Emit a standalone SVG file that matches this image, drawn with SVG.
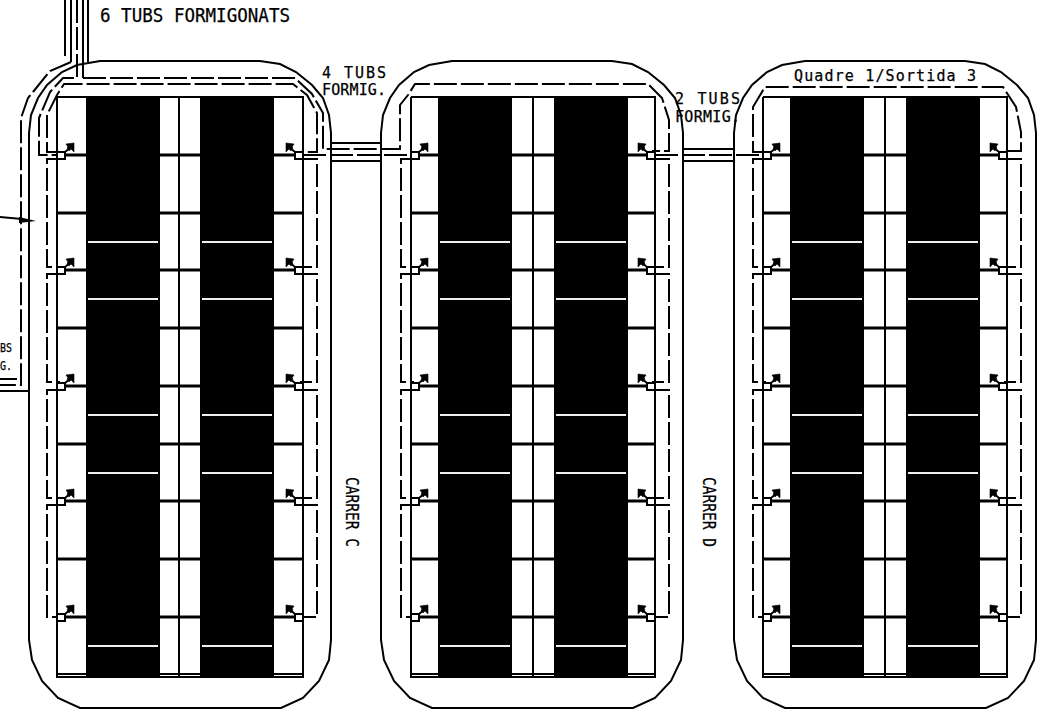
<svg xmlns="http://www.w3.org/2000/svg" width="1049" height="709" viewBox="0 0 1049 709">
<style>
.s{fill:none;stroke:#000;stroke-width:2}
.d{fill:none;stroke:#000;stroke-width:2;stroke-dasharray:23 4}
.r{fill:none;stroke:#000;stroke-width:3}
.w{fill:none;stroke:#eee;stroke-width:2}
.b{fill:#000;stroke:#000;stroke-width:.6}
.f{fill:#000;stroke:none}
.box{fill:#fff;stroke:#000;stroke-width:2}
text{font-family:"DejaVu Sans Mono","Liberation Mono",monospace;fill:#000;font-weight:400;stroke:#000;stroke-width:.25}
</style>
<defs>
<path id="outline" class="s" d="M29 133L31 115 38 98 47 85 62 72 77 65 100 61H260L280 64 296 72 312 85 323 98 329 115 331 133V640L329 660 319 681 303 698 281 708H80L58 698 42 681 32 660 29 640Z"/>
<path id="white" class="w" d="M0 242H70M0 299H70M0 415H70M0 473H70M0 646H70"/>
<g id="arr-l"><rect class="box" x="-8" y="-3" width="8" height="7"/><path class="s" d="M0 -3L6 -8"/><polygon class="b" points="9,-12 1,-11 3,-8 2,-7 4,-4 6,-6 9,-3"/></g>
<g id="arr-r"><rect class="box" x="0" y="-3" width="8" height="7"/><path class="s" d="M0 -3L-6 -8"/><polygon class="b" points="-9,-12 -1,-11 -3,-8 -2,-7 -4,-4 -6,-6 -9,-3"/></g>
<g id="left-loops">
<path class="d" d="M65 159H47V267H60M65 274H47V382H60M65 390H47V498H60M65 505H47V617H60"/>
<use href="#arr-l" x="65" y="155"/><use href="#arr-l" x="65" y="270"/><use href="#arr-l" x="65" y="386"/><use href="#arr-l" x="65" y="501"/><use href="#arr-l" x="65" y="617"/>
</g>
<g id="right-loops">
<path class="d" d="M295 159H317V267H300M295 274H317V382H300M295 390H317V498H300M295 505H317V617H300"/>
<use href="#arr-r" x="295" y="155"/><use href="#arr-r" x="295" y="270"/><use href="#arr-r" x="295" y="386"/><use href="#arr-r" x="295" y="501"/><use href="#arr-r" x="295" y="617"/>
</g>
</defs>
<rect width="1049" height="709" fill="#fff"/>
<g id="block-1">
<use href="#outline"/>
<path class="s" d="M57 97H303V677M57 97V677M179 97V677"/>
<path class="r" d="M57 155H303M57 213H303M57 270H303M57 328H303M57 386H303M57 444H303M57 501H303M57 559H303M57 617H303"/>
<path class="s" d="M57 674H303M56 677H304"/>
<rect class="f" x="86" y="97" width="74" height="579"/>
<rect class="f" x="200" y="97" width="74" height="579"/>
<use href="#white" x="88"/><use href="#white" x="202"/>
</g>
<g id="block-2">
<use href="#outline" x="352"/>
<path class="s" d="M411 97H655V677M411 97V677M533 97V677"/>
<path class="r" d="M411 155H655M411 213H655M411 270H655M411 328H655M411 386H655M411 444H655M411 501H655M411 559H655M411 617H655"/>
<path class="s" d="M411 674H655M410 677H656"/>
<rect class="f" x="438" y="97" width="74" height="579"/>
<rect class="f" x="554" y="97" width="74" height="579"/>
<use href="#white" x="440"/><use href="#white" x="556"/>
</g>
<g id="block-3">
<use href="#outline" x="705"/>
<path class="s" d="M763 97H1007V677M763 97V677M885 97V677"/>
<path class="r" d="M763 155H1007M763 213H1007M763 270H1007M763 328H1007M763 386H1007M763 444H1007M763 501H1007M763 559H1007M763 617H1007"/>
<path class="s" d="M763 674H1007M762 677H1008"/>
<rect class="f" x="790" y="97" width="74" height="579"/>
<rect class="f" x="906" y="97" width="74" height="579"/>
<use href="#white" x="792"/><use href="#white" x="908"/>
</g>
<g id="connectors">
<path class="s" d="M65 0V56M71 0V62M83 0V78M88 0V62M331 143H381M331 161H381M683 149H733M683 161H733M0 379H17M0 391H28"/>
<path class="d" d="M71 62L50 71 33 92 28 98 21 118V385H0"/>
<path class="d" d="M77 0V78H63L50 92 39 118V155H60"/>
<path class="d" d="M60 152H47V115L57 95 64 84H293L307 95 317 113V152H300"/>
<path class="d" d="M83 78H295L312 94 323 113V149H400V105L408 95 415 84H648L662 98 669 120V151H652"/>
<path class="d" d="M303 155H411"/>
<path class="d" d="M655 155H763"/>
<path class="d" d="M765 152H753V107L765 87H1003L1016 107 1021 132V151H1004"/>
<use href="#left-loops"/>
<use href="#right-loops"/>
<use href="#left-loops" x="354"/>
<use href="#right-loops" x="352"/>
<use href="#left-loops" x="706"/>
<use href="#right-loops" x="704"/>
<path class="s" d="M0 217L22 219"/>
<polygon class="f" points="36,221 19,217 19,223"/>
</g>
<g id="labels">
<text x="100" y="22" font-size="19" textLength="190" lengthAdjust="spacingAndGlyphs">6 TUBS FORMIGONATS</text>
<text x="322" y="78" font-size="15" textLength="64" lengthAdjust="spacing">4 TUBS</text>
<text x="322" y="95" font-size="15" textLength="64" lengthAdjust="spacing">FORMIG.</text>
<text x="675" y="104" font-size="15" textLength="65" lengthAdjust="spacing">2 TUBS</text>
<text x="675" y="122" font-size="15" textLength="65" lengthAdjust="spacing">FORMIG.</text>
<text x="794" y="81" font-size="15" textLength="182" lengthAdjust="spacing">Quadre 1/Sortida 3</text>
<text x="0" y="352" font-size="13" textLength="12" lengthAdjust="spacingAndGlyphs">BS</text>
<text x="0" y="370" font-size="13" textLength="12" lengthAdjust="spacingAndGlyphs">G.</text>
<text transform="translate(346 477) rotate(90)" font-size="17" textLength="70" lengthAdjust="spacingAndGlyphs">CARRER C</text>
<text transform="translate(703 477) rotate(90)" font-size="17" textLength="70" lengthAdjust="spacingAndGlyphs">CARRER D</text>
</g>
</svg>
